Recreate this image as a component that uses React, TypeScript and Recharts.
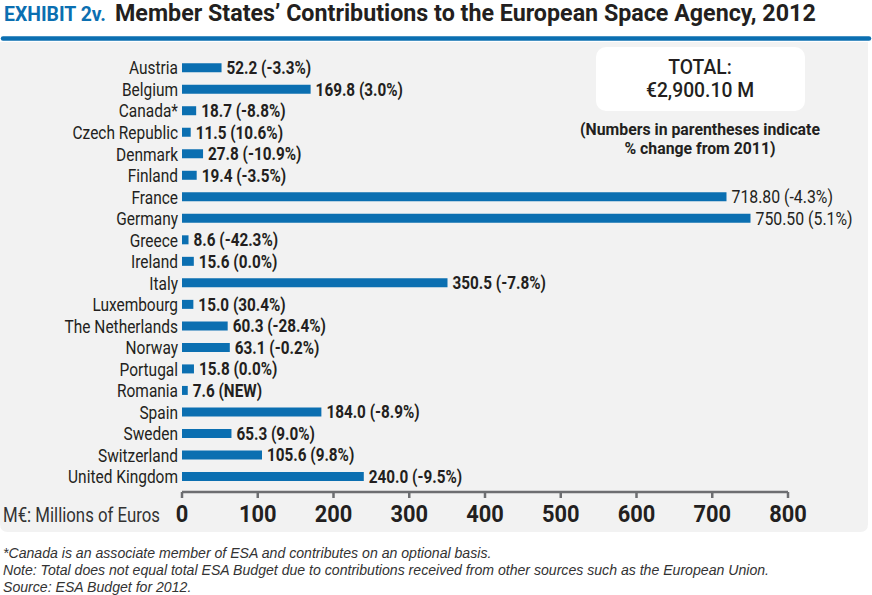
import React from 'react';
import { BarChart, Bar, XAxis, YAxis, LabelList } from 'recharts';

const countries = [
  'Austria', 'Belgium', 'Canada*', 'Czech Republic', 'Denmark', 'Finland', 'France', 'Germany',
  'Greece', 'Ireland', 'Italy', 'Luxembourg', 'The Netherlands', 'Norway', 'Portugal', 'Romania',
  'Spain', 'Sweden', 'Switzerland', 'United Kingdom',
];
const values = [52.2, 169.8, 18.7, 11.5, 27.8, 19.4, 718.8, 750.5, 8.6, 15.6, 350.5, 15.0, 60.3, 63.1, 15.8, 7.6, 184.0, 65.3, 105.6, 240.0];
const valueLabels = ['52.2', '169.8', '18.7', '11.5', '27.8', '19.4', '718.80', '750.50', '8.6', '15.6', '350.5', '15.0', '60.3', '63.1', '15.8', '7.6', '184.0', '65.3', '105.6', '240.0'];
const changes = ['(-3.3%)', '(3.0%)', '(-8.8%)', '(10.6%)', '(-10.9%)', '(-3.5%)', '(-4.3%)', '(5.1%)', '(-42.3%)', '(0.0%)', '(-7.8%)', '(30.4%)', '(-28.4%)', '(-0.2%)', '(0.0%)', '(NEW)', '(-8.9%)', '(9.0%)', '(9.8%)', '(-9.5%)'];
const xTicks = [0, 100, 200, 300, 400, 500, 600, 700, 800];

const titleLead = 'EXHIBIT 2v.';
const titleText = 'Member States’ Contributions to the European Space Agency, 2012';
const totalLines = ['TOTAL:', '€2,900.10 M'];
const noteLines = ['(Numbers in parentheses indicate', '% change from 2011)'];
const axisTitle = 'M€: Millions of Euros';
const footnotes = [
  '*Canada is an associate member of ESA and contributes on an optional basis.',
  'Note: Total does not equal total ESA Budget due to contributions received from other sources such as the European Union.',
  'Source: ESA Budget for 2012.',
];

const data = countries.map((c, i) => ({
  country: c,
  value: values[i],
  label: `${valueLabels[i]} ${changes[i]}`,
  bold: !(c === 'France' || c === 'Germany'),
}));

const FONT = 'Roboto, "Noto Sans", sans-serif';
const BLUE = '#0b6fb1';
const TEXT = '#231f20';

const ST = (props: any) => {
  const { x, y, sx = 1, anchor = 'start', size, weight = 'normal', fill = TEXT, children, family = FONT, style = 'normal' } = props;
  return (
    <text
      transform={`translate(${x} ${y}) scale(${sx} 1)`}
      x={0}
      y={0}
      textAnchor={anchor}
      fontFamily={family}
      fontSize={size}
      fontWeight={weight}
      fontStyle={style}
      fill={fill}
    >
      {children}
    </text>
  );
};

const YTick = (props: any) => {
  const { x, y, payload } = props;
  return <ST x={x} y={y + 6.5} anchor="end" sx={0.86} size={18}>{payload.value}</ST>;
};

const XTick = (props: any) => {
  const { x, y, payload } = props;
  return <ST x={x} y={y + 24} anchor="middle" sx={0.95} size={23} weight="bold">{payload.value}</ST>;
};

const ValueLabel = (props: any) => {
  const { x, y, width, height, value, index } = props;
  const bold = data[index] ? data[index].bold : true;
  return (
    <ST x={x + width + 5} y={y + height / 2 + 6.5} sx={bold ? 0.85 : 0.88} size={18} weight={bold ? 'bold' : 'normal'}>
      {value}
    </ST>
  );
};

export default function App() {
  return (
    <div style={{ position: 'absolute', left: 0, top: 0, width: 872, height: 595, background: '#fff' }}>
      <svg width={872} height={595} style={{ position: 'absolute', left: 0, top: 0 }}>
        <path d="M0,42 H868 V524 Q868,532 860,532 H8 Q0,532 0,524 Z" fill="#f2f2f2" />
        <line x1={3} y1={38.5} x2={869} y2={38.5} stroke={BLUE} strokeWidth={4.5} strokeLinecap="round" />
        <ST x={4} y={21} size={20} weight="bold" fill={BLUE} sx={0.97}>{titleLead}</ST>
        <ST x={115} y={21} size={23.5} weight="bold" sx={0.99}>{titleText}</ST>
        <rect x={596} y={47} width={209} height={64} rx={10} fill="#fff" />
        <ST x={700} y={74} anchor="middle" size={21} weight={500} sx={0.92}>{totalLines[0]}</ST>
        <ST x={700} y={97} anchor="middle" size={21} weight={500} sx={0.92}>{totalLines[1]}</ST>
        <ST x={700} y={135} anchor="middle" size={17} weight="bold" sx={0.93}>{noteLines[0]}</ST>
        <ST x={700} y={154} anchor="middle" size={17} weight="bold" sx={0.93}>{noteLines[1]}</ST>
        <ST x={3} y={522} size={21} sx={0.8} fill="#333">{axisTitle}</ST>
        {footnotes.map((f, i) => (
          <ST key={i} x={3} y={558 + i * 17} family='"Liberation Sans", Arial, sans-serif' size={14.1} style="italic" fill="#333">{f}</ST>
        ))}
      </svg>
      <div style={{ position: 'absolute', left: 0, top: 0 }}>
        <BarChart
          width={872}
          height={595}
          data={data}
          layout="vertical"
          margin={{ top: 57.2, right: 84, bottom: 73, left: 0 }}
          barSize={9}
        >
          <XAxis
            type="number"
            domain={[0, 800]}
            ticks={xTicks}
            interval={0}
            height={30}
            axisLine={{ stroke: '#6d6e71', strokeWidth: 2.5 }}
            tickLine={{ stroke: '#6d6e71', strokeWidth: 2.5 }}
            tickSize={6}
            tickMargin={0}
            tick={<XTick />}
          />
          <YAxis
            type="category"
            dataKey="country"
            width={182}
            axisLine={false}
            tickLine={false}
            tickSize={0}
            tickMargin={4}
            interval={0}
            padding={{ top: 0, bottom: 4.5 }}
            tick={<YTick />}
          />
          <Bar dataKey="value" fill={BLUE} isAnimationActive={false}>
            <LabelList dataKey="label" content={<ValueLabel />} />
          </Bar>
        </BarChart>
      </div>
    </div>
  );
}
